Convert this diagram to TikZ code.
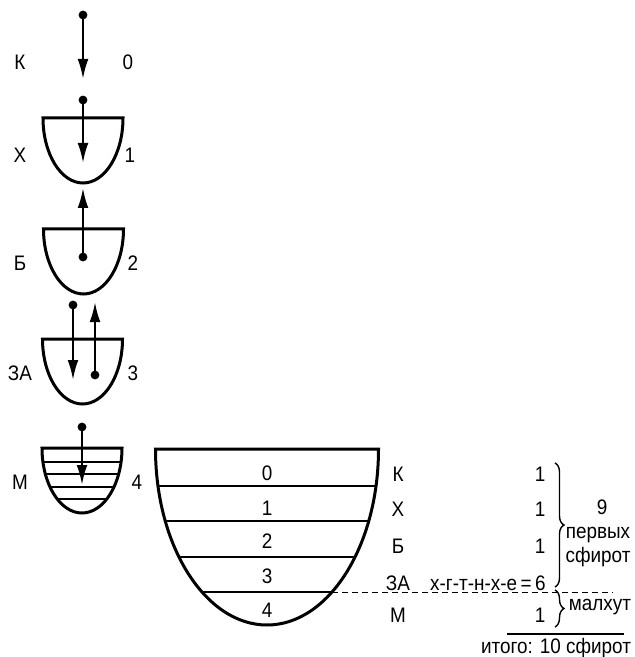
\documentclass[tikz,border=0pt]{standalone}
\usepackage{fontspec}
\setmainfont{Liberation Sans}
\newfontfamily\labelfont[FakeStretch=0.9]{Liberation Sans}
\usetikzlibrary{arrows.meta,decorations.pathreplacing}
\tikzset{
  bowl/.style={line width=1.5pt},
  shelf/.style={line width=1.2pt},
  flow/.style={-{Latex[length=10pt,width=5.4pt]},line width=1.1pt},
  lbl/.style={font=\labelfont\fontsize{10.5}{12}\selectfont,inner sep=0pt},
  gbrace/.style={decorate,decoration={brace,amplitude=4.5pt},line width=.7pt},
}
% small bowl: centre x, top y
\newcommand\smallbowl[2]{%
  \draw[bowl] (#1-40,#2) -- (#1+40,#2) arc[start angle=0,end angle=180,x radius=40,y radius=65] -- cycle;}

\begin{document}
\begin{tikzpicture}[x=.5pt,y=-.5pt]
  \useasboundingbox (0,0) rectangle (635,657);
  % left column of bowls
  \smallbowl{83}{118}
  \smallbowl{83.5}{229}
  \smallbowl{82.5}{339}
  \smallbowl{82}{448}
  \begin{scope}
    \clip (42,448) -- (122,448) arc[start angle=0,end angle=180,x radius=40,y radius=65] -- cycle;
    \foreach \yy in {462,474,487,499} \draw[shelf] (30,\yy) -- (135,\yy);
  \end{scope}
  % arrows with dots
  \foreach \nm/\xa/\ya/\yb in {k/83/15/79, h/83/100/163, b/83/257/188, zl/73/305/380, zr/95/375/302, m/82/427/485} {
    \coordinate (\nm s) at (\xa,\ya);
    \coordinate (\nm e) at (\xa,\yb);
    \fill (\nm s) circle[radius=2.2pt];
    \draw[flow] (\nm s) -- (\nm e);
  }
  % labels of the left column
  \foreach \nm/\txt/\num/\ly/\nx in {k/К/0/62/128, h/Х/1/155/130, b/Б/2/263/133, z/ЗА/3/373/133, m/М/4/482/137} {
    \node[lbl] (l\nm) at (20,\ly) {\txt};
    \node[lbl] (n\nm) at (\nx,\ly) {\num};
  }
  % big bowl
  \draw[bowl] (155.5,449) -- (378.5,449) arc[start angle=0,end angle=180,x radius=111.5,y radius=176] -- cycle;
  \begin{scope}
    \clip (155.5,449) -- (378.5,449) arc[start angle=0,end angle=180,x radius=111.5,y radius=176] -- cycle;
    \foreach \yy in {486,521,557,592} \draw[shelf] (140,\yy) -- (395,\yy);
  \end{scope}
  \foreach \num/\ly in {0/473,1/508,2/541,3/576,4/610}
    \node[lbl] (c\num) at (267,\ly) {\num};
  \coordinate (dashA) at (332,592);
  \coordinate (dashB) at (613,592);
  \draw[dashed,line width=.5pt,dash pattern=on 3pt off 2pt] (dashA) -- (dashB);
  % right column
  \foreach \nm/\txt/\ly in {k/К/474, h/Х/509, b/Б/546, z/ЗА/583, m/М/615}
    \node[lbl] (r\nm) at (398,\ly) {\txt};
  \foreach \nm/\ly in {k/474, h/509, b/546, m/615}
    \node[lbl] (o\nm) at (540,\ly) {1};
  \node[lbl,anchor=east] (sum) at (546,583) {х-г-т-н-х-е\,=\,6};
  \coordinate (brA) at (555,463);
  \coordinate (brB) at (555,587);
  \coordinate (brC) at (555,590);
  \coordinate (brD) at (555,627);
  \draw[gbrace] (brA) -- (brB);
  \draw[gbrace] (brC) -- (brD);
  \node[lbl] (nine) at (602,507) {9};
  \node[lbl] (first) at (598,535) {первых};
  \node[lbl] (sf) at (598,557) {сфирот};
  \node[lbl] (malk) at (600,607) {малхут};
  \coordinate (totA) at (507,634);
  \coordinate (totB) at (624,634);
  \draw[line width=.8pt] (totA) -- (totB);
  \node[lbl] (total) at (556,648) {итого: 10 сфирот};
\end{tikzpicture}
\end{document}
